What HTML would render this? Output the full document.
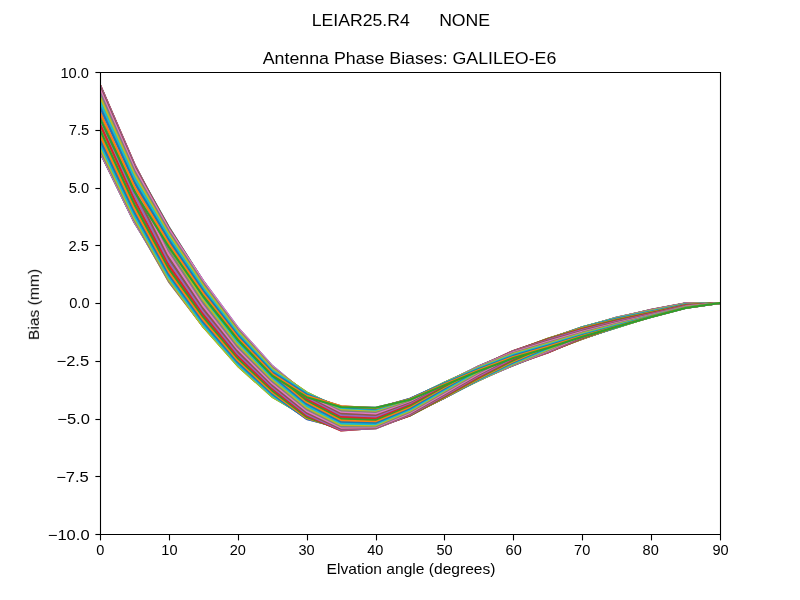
<!DOCTYPE html><html><head><meta charset="utf-8"><title>Antenna Phase Biases</title><style>html,body{margin:0;padding:0;background:#fff;width:800px;height:600px;overflow:hidden}svg{display:block}</style></head><body><svg width="800" height="600" viewBox="0 0 800 600"><defs><clipPath id="ax"><rect x="100" y="72" width="620" height="462"/></clipPath></defs><rect width="800" height="600" fill="#fff"/><g clip-path="url(#ax)" fill="none" stroke-width="2.0833" stroke-linejoin="round" stroke-linecap="square"><path d="M100.00 118.43 L134.44 191.47 L168.89 247.09 L203.33 296.50 L237.78 339.73 L272.22 375.63 L306.67 397.19 L341.11 407.02 L375.56 407.71 L410.00 399.76 L444.44 385.13 L478.89 370.94 L513.33 358.05 L547.78 347.90 L582.22 336.81 L616.67 326.86 L651.11 317.02 L685.56 307.92 L720.00 303.00" stroke="#1f77b4"/><path d="M100.00 124.25 L134.44 196.18 L168.89 250.73 L203.33 299.38 L237.78 342.04 L272.22 377.50 L306.67 398.74 L341.11 407.97 L375.56 408.17 L410.00 400.51 L444.44 386.11 L478.89 372.01 L513.33 359.16 L547.78 348.88 L582.22 337.45 L616.67 327.21 L651.11 316.86 L685.56 307.82 L720.00 303.00" stroke="#ff7f0e"/><path d="M100.00 129.89 L134.44 200.82 L168.89 254.42 L203.33 302.30 L237.78 344.38 L272.22 379.40 L306.67 400.39 L341.11 409.09 L375.56 408.84 L410.00 401.41 L444.44 387.18 L478.89 373.11 L513.33 360.24 L547.78 349.79 L582.22 337.99 L616.67 327.45 L651.11 316.63 L685.56 307.67 L720.00 303.00" stroke="#2ca02c"/><path d="M100.00 135.18 L134.44 205.26 L168.89 258.12 L203.33 305.24 L237.78 346.75 L272.22 381.31 L306.67 402.12 L341.11 410.37 L375.56 409.72 L410.00 402.45 L444.44 388.32 L478.89 374.21 L513.33 361.27 L547.78 350.60 L582.22 338.41 L616.67 327.32 L651.11 316.32 L685.56 307.47 L720.00 303.00" stroke="#d62728"/><path d="M100.00 139.96 L134.44 209.39 L168.89 261.75 L203.33 308.16 L237.78 349.12 L272.22 383.22 L306.67 403.90 L341.11 411.79 L375.56 410.79 L410.00 403.60 L444.44 389.51 L478.89 375.29 L513.33 362.22 L547.78 351.29 L582.22 338.72 L616.67 327.01 L651.11 315.94 L685.56 307.23 L720.00 303.00" stroke="#9467bd"/><path d="M100.00 144.09 L134.44 213.10 L168.89 265.28 L203.33 311.05 L237.78 351.47 L272.22 385.12 L306.67 405.71 L341.11 413.33 L375.56 412.03 L410.00 404.84 L444.44 390.72 L478.89 376.33 L513.33 363.08 L547.78 351.85 L582.22 338.67 L616.67 326.61 L651.11 315.51 L685.56 306.96 L720.00 303.00" stroke="#8c564b"/><path d="M100.00 147.44 L134.44 216.31 L168.89 268.64 L203.33 313.89 L237.78 353.77 L272.22 386.98 L306.67 407.53 L341.11 414.96 L375.56 413.41 L410.00 406.13 L444.44 391.92 L478.89 377.29 L513.33 363.82 L547.78 352.27 L582.22 338.34 L616.67 326.11 L651.11 315.03 L685.56 306.65 L720.00 303.00" stroke="#e377c2"/><path d="M100.00 149.91 L134.44 218.93 L168.89 271.79 L203.33 316.64 L237.78 356.02 L272.22 388.80 L306.67 409.31 L341.11 416.66 L375.56 414.90 L410.00 407.44 L444.44 393.07 L478.89 378.16 L513.33 364.43 L547.78 352.45 L582.22 337.89 L616.67 325.53 L651.11 314.51 L685.56 306.32 L720.00 303.00" stroke="#7f7f7f"/><path d="M100.00 151.42 L134.44 220.90 L168.89 274.68 L203.33 319.29 L237.78 358.20 L272.22 390.56 L306.67 411.04 L341.11 418.38 L375.56 416.47 L410.00 408.75 L444.44 394.16 L478.89 378.92 L513.33 364.89 L547.78 352.12 L582.22 337.33 L616.67 324.87 L651.11 313.96 L685.56 305.97 L720.00 303.00" stroke="#bcbd22"/><path d="M100.00 151.93 L134.44 222.18 L168.89 277.29 L203.33 321.82 L237.78 360.28 L272.22 392.24 L306.67 412.69 L341.11 420.11 L375.56 418.07 L410.00 410.03 L444.44 395.16 L478.89 379.55 L513.33 365.21 L547.78 351.64 L582.22 336.67 L616.67 324.16 L651.11 313.39 L685.56 305.61 L720.00 303.00" stroke="#17becf"/><path d="M100.00 151.42 L134.44 221.98 L168.89 279.59 L203.33 324.23 L237.78 362.27 L272.22 393.85 L306.67 414.23 L341.11 421.81 L375.56 419.68 L410.00 411.23 L444.44 396.04 L478.89 380.04 L513.33 364.89 L547.78 351.03 L582.22 335.93 L616.67 323.41 L651.11 312.83 L685.56 305.25 L720.00 303.00" stroke="#1f77b4"/><path d="M100.00 149.91 L134.44 220.56 L168.89 281.56 L203.33 326.50 L237.78 364.14 L272.22 395.36 L306.67 415.65 L341.11 423.44 L375.56 421.24 L410.00 412.34 L444.44 396.79 L478.89 380.38 L513.33 364.43 L547.78 350.29 L582.22 335.11 L616.67 322.64 L651.11 312.28 L685.56 304.90 L720.00 303.00" stroke="#ff7f0e"/><path d="M100.00 147.44 L134.44 218.45 L168.89 279.59 L203.33 326.93 L237.78 365.90 L272.22 396.79 L306.67 416.93 L341.11 424.98 L375.56 422.73 L410.00 413.33 L444.44 397.38 L478.89 380.19 L513.33 363.82 L547.78 349.44 L582.22 334.25 L616.67 321.86 L651.11 311.76 L685.56 304.57 L720.00 303.00" stroke="#2ca02c"/><path d="M100.00 144.09 L134.44 215.71 L168.89 277.29 L203.33 324.69 L237.78 364.14 L272.22 395.36 L306.67 418.06 L341.11 426.40 L375.56 424.12 L410.00 414.17 L444.44 397.83 L478.89 379.76 L513.33 363.08 L547.78 348.50 L582.22 333.36 L616.67 321.10 L651.11 311.28 L685.56 304.26 L720.00 303.00" stroke="#d62728"/><path d="M100.00 139.96 L134.44 212.40 L168.89 274.68 L203.33 322.32 L237.78 362.27 L272.22 393.85 L306.67 419.03 L341.11 427.68 L375.56 425.35 L410.00 414.86 L444.44 397.89 L478.89 379.19 L513.33 362.22 L547.78 347.49 L582.22 332.45 L616.67 320.37 L651.11 310.85 L685.56 303.99 L720.00 303.00" stroke="#9467bd"/><path d="M100.00 135.18 L134.44 208.59 L168.89 271.79 L203.33 319.81 L237.78 360.28 L272.22 392.24 L306.67 418.06 L341.11 428.80 L375.56 426.43 L410.00 415.37 L444.44 397.49 L478.89 378.48 L513.33 361.27 L547.78 346.43 L582.22 331.56 L616.67 319.70 L651.11 310.47 L685.56 303.75 L720.00 303.00" stroke="#8c564b"/><path d="M100.00 129.89 L134.44 204.39 L168.89 268.64 L203.33 317.18 L237.78 358.20 L272.22 390.56 L306.67 416.93 L341.11 429.75 L375.56 427.30 L410.00 415.60 L444.44 396.92 L478.89 377.65 L513.33 360.24 L547.78 345.36 L582.22 330.71 L616.67 319.08 L651.11 310.16 L685.56 303.55 L720.00 303.00" stroke="#e377c2"/><path d="M100.00 124.25 L134.44 199.90 L168.89 265.28 L203.33 314.44 L237.78 356.02 L272.22 388.80 L306.67 415.65 L341.11 430.51 L375.56 427.98 L410.00 415.19 L444.44 396.20 L478.89 376.72 L513.33 359.16 L547.78 344.29 L582.22 329.91 L616.67 318.55 L651.11 309.93 L685.56 303.40 L720.00 303.00" stroke="#7f7f7f"/><path d="M100.00 118.43 L134.44 195.24 L168.89 261.75 L203.33 311.63 L237.78 353.77 L272.22 386.98 L306.67 414.23 L341.11 429.75 L375.56 428.43 L410.00 414.60 L444.44 395.34 L478.89 375.71 L513.33 358.05 L547.78 343.25 L582.22 329.18 L616.67 318.11 L651.11 309.77 L685.56 303.30 L720.00 303.00" stroke="#bcbd22"/><path d="M100.00 112.61 L134.44 190.53 L168.89 258.12 L203.33 308.74 L237.78 351.47 L272.22 385.12 L306.67 412.69 L341.11 428.80 L375.56 427.98 L410.00 413.85 L444.44 394.37 L478.89 374.65 L513.33 356.94 L547.78 342.26 L582.22 328.54 L616.67 317.76 L651.11 309.93 L685.56 303.40 L720.00 303.00" stroke="#17becf"/><path d="M100.00 106.98 L134.44 185.89 L168.89 254.42 L203.33 305.82 L237.78 349.12 L272.22 383.22 L306.67 411.04 L341.11 427.68 L375.56 427.30 L410.00 412.95 L444.44 393.30 L478.89 373.55 L513.33 355.86 L547.78 341.36 L582.22 328.00 L616.67 317.52 L651.11 310.16 L685.56 303.55 L720.00 303.00" stroke="#1f77b4"/><path d="M100.00 101.68 L134.44 181.45 L168.89 250.73 L203.33 302.89 L237.78 346.75 L272.22 381.31 L306.67 409.31 L341.11 426.40 L375.56 426.43 L410.00 411.91 L444.44 392.15 L478.89 372.45 L513.33 354.82 L547.78 340.55 L582.22 327.58 L616.67 317.65 L651.11 310.47 L685.56 303.75 L720.00 303.00" stroke="#ff7f0e"/><path d="M100.00 96.90 L134.44 177.32 L168.89 247.09 L203.33 299.96 L237.78 344.38 L272.22 379.40 L306.67 407.53 L341.11 424.98 L375.56 425.35 L410.00 410.76 L444.44 390.96 L478.89 371.37 L513.33 353.87 L547.78 339.86 L582.22 327.27 L616.67 317.96 L651.11 310.85 L685.56 303.99 L720.00 303.00" stroke="#2ca02c"/><path d="M100.00 92.77 L134.44 173.61 L168.89 243.56 L203.33 297.07 L237.78 342.04 L272.22 377.50 L306.67 405.71 L341.11 423.44 L375.56 424.12 L410.00 409.52 L444.44 389.75 L478.89 370.33 L513.33 353.01 L547.78 339.30 L582.22 327.32 L616.67 318.36 L651.11 311.28 L685.56 304.26 L720.00 303.00" stroke="#d62728"/><path d="M100.00 89.42 L134.44 170.40 L168.89 240.20 L203.33 294.24 L237.78 339.73 L272.22 375.63 L306.67 403.90 L341.11 421.81 L375.56 422.73 L410.00 408.23 L444.44 388.56 L478.89 369.37 L513.33 352.27 L547.78 338.88 L582.22 327.65 L616.67 318.86 L651.11 311.76 L685.56 304.57 L720.00 303.00" stroke="#9467bd"/><path d="M100.00 86.96 L134.44 167.78 L168.89 237.06 L203.33 291.49 L237.78 337.48 L272.22 373.82 L306.67 402.12 L341.11 420.11 L375.56 421.24 L410.00 406.92 L444.44 387.40 L478.89 368.50 L513.33 351.67 L547.78 338.69 L582.22 328.10 L616.67 319.44 L651.11 312.28 L685.56 304.90 L720.00 303.00" stroke="#8c564b"/><path d="M100.00 85.44 L134.44 165.81 L168.89 234.16 L203.33 288.84 L237.78 335.31 L272.22 372.06 L306.67 400.39 L341.11 418.38 L375.56 419.68 L410.00 405.61 L444.44 386.31 L478.89 367.74 L513.33 351.20 L547.78 339.03 L582.22 328.66 L616.67 320.10 L651.11 312.83 L685.56 305.25 L720.00 303.00" stroke="#e377c2"/><path d="M100.00 84.94 L134.44 164.53 L168.89 231.55 L203.33 286.30 L237.78 333.22 L272.22 370.37 L306.67 398.74 L341.11 416.66 L375.56 418.07 L410.00 404.34 L444.44 385.32 L478.89 367.11 L513.33 350.89 L547.78 339.50 L582.22 329.32 L616.67 320.81 L651.11 313.39 L685.56 305.61 L720.00 303.00" stroke="#7f7f7f"/><path d="M100.00 85.44 L134.44 164.73 L168.89 229.25 L203.33 283.90 L237.78 331.24 L272.22 368.77 L306.67 397.19 L341.11 414.96 L375.56 416.47 L410.00 403.13 L444.44 384.44 L478.89 366.62 L513.33 351.20 L547.78 340.12 L582.22 330.06 L616.67 321.56 L651.11 313.96 L685.56 305.97 L720.00 303.00" stroke="#bcbd22"/><path d="M100.00 86.96 L134.44 166.15 L168.89 227.28 L203.33 281.63 L237.78 329.36 L272.22 367.25 L306.67 395.77 L341.11 413.33 L375.56 414.90 L410.00 402.02 L444.44 383.69 L478.89 366.28 L513.33 351.67 L547.78 340.86 L582.22 330.88 L616.67 322.33 L651.11 314.51 L685.56 306.32 L720.00 303.00" stroke="#17becf"/><path d="M100.00 89.42 L134.44 168.26 L168.89 229.25 L203.33 281.19 L237.78 327.60 L272.22 365.83 L306.67 394.49 L341.11 411.79 L375.56 413.41 L410.00 401.04 L444.44 383.09 L478.89 366.46 L513.33 352.27 L547.78 341.71 L582.22 331.74 L616.67 323.11 L651.11 315.03 L685.56 306.65 L720.00 303.00" stroke="#1f77b4"/><path d="M100.00 92.77 L134.44 171.00 L168.89 231.55 L203.33 283.43 L237.78 329.36 L272.22 367.25 L306.67 393.37 L341.11 410.37 L375.56 412.03 L410.00 400.19 L444.44 382.65 L478.89 366.89 L513.33 353.01 L547.78 342.65 L582.22 332.63 L616.67 323.87 L651.11 315.51 L685.56 306.96 L720.00 303.00" stroke="#ff7f0e"/><path d="M100.00 96.90 L134.44 174.31 L168.89 234.16 L203.33 285.81 L237.78 331.24 L272.22 368.77 L306.67 392.40 L341.11 409.09 L375.56 410.79 L410.00 399.50 L444.44 382.58 L478.89 367.47 L513.33 353.87 L547.78 343.66 L582.22 333.54 L616.67 324.60 L651.11 315.94 L685.56 307.23 L720.00 303.00" stroke="#2ca02c"/><path d="M100.00 101.68 L134.44 178.12 L168.89 237.06 L203.33 288.32 L237.78 333.22 L272.22 370.37 L306.67 393.37 L341.11 407.97 L375.56 409.72 L410.00 398.99 L444.44 382.99 L478.89 368.18 L513.33 354.82 L547.78 344.71 L582.22 334.43 L616.67 325.27 L651.11 316.32 L685.56 307.47 L720.00 303.00" stroke="#d62728"/><path d="M100.00 106.98 L134.44 182.32 L168.89 240.20 L203.33 290.95 L237.78 335.31 L272.22 372.06 L306.67 394.49 L341.11 407.02 L375.56 408.84 L410.00 398.76 L444.44 383.56 L478.89 369.01 L513.33 355.86 L547.78 345.79 L582.22 335.28 L616.67 325.89 L651.11 316.63 L685.56 307.67 L720.00 303.00" stroke="#9467bd"/><path d="M100.00 112.61 L134.44 186.81 L168.89 243.56 L203.33 293.68 L237.78 337.48 L272.22 373.82 L306.67 395.77 L341.11 406.26 L375.56 408.17 L410.00 399.17 L444.44 384.28 L478.89 369.94 L513.33 356.94 L547.78 346.86 L582.22 336.08 L616.67 326.42 L651.11 316.86 L685.56 307.82 L720.00 303.00" stroke="#8c564b"/><path d="M100.00 118.43 L134.44 191.47 L168.89 247.09 L203.33 296.50 L237.78 339.73 L272.22 375.63 L306.67 397.19 L341.11 407.02 L375.56 407.71 L410.00 399.76 L444.44 385.13 L478.89 370.94 L513.33 358.05 L547.78 347.90 L582.22 336.81 L616.67 326.86 L651.11 317.02 L685.56 307.92 L720.00 303.00" stroke="#e377c2"/><path d="M100.00 124.25 L134.44 196.18 L168.89 250.73 L203.33 299.38 L237.78 342.04 L272.22 377.50 L306.67 398.74 L341.11 407.97 L375.56 408.17 L410.00 400.51 L444.44 386.11 L478.89 372.01 L513.33 359.16 L547.78 348.88 L582.22 337.45 L616.67 327.21 L651.11 316.86 L685.56 307.82 L720.00 303.00" stroke="#7f7f7f"/><path d="M100.00 129.89 L134.44 200.82 L168.89 254.42 L203.33 302.30 L237.78 344.38 L272.22 379.40 L306.67 400.39 L341.11 409.09 L375.56 408.84 L410.00 401.41 L444.44 387.18 L478.89 373.11 L513.33 360.24 L547.78 349.79 L582.22 337.99 L616.67 327.45 L651.11 316.63 L685.56 307.67 L720.00 303.00" stroke="#bcbd22"/><path d="M100.00 135.18 L134.44 205.26 L168.89 258.12 L203.33 305.24 L237.78 346.75 L272.22 381.31 L306.67 402.12 L341.11 410.37 L375.56 409.72 L410.00 402.45 L444.44 388.32 L478.89 374.21 L513.33 361.27 L547.78 350.60 L582.22 338.41 L616.67 327.32 L651.11 316.32 L685.56 307.47 L720.00 303.00" stroke="#17becf"/><path d="M100.00 139.96 L134.44 209.39 L168.89 261.75 L203.33 308.16 L237.78 349.12 L272.22 383.22 L306.67 403.90 L341.11 411.79 L375.56 410.79 L410.00 403.60 L444.44 389.51 L478.89 375.29 L513.33 362.22 L547.78 351.29 L582.22 338.72 L616.67 327.01 L651.11 315.94 L685.56 307.23 L720.00 303.00" stroke="#1f77b4"/><path d="M100.00 144.09 L134.44 213.10 L168.89 265.28 L203.33 311.05 L237.78 351.47 L272.22 385.12 L306.67 405.71 L341.11 413.33 L375.56 412.03 L410.00 404.84 L444.44 390.72 L478.89 376.33 L513.33 363.08 L547.78 351.85 L582.22 338.67 L616.67 326.61 L651.11 315.51 L685.56 306.96 L720.00 303.00" stroke="#ff7f0e"/><path d="M100.00 147.44 L134.44 216.31 L168.89 268.64 L203.33 313.89 L237.78 353.77 L272.22 386.98 L306.67 407.53 L341.11 414.96 L375.56 413.41 L410.00 406.13 L444.44 391.92 L478.89 377.29 L513.33 363.82 L547.78 352.27 L582.22 338.34 L616.67 326.11 L651.11 315.03 L685.56 306.65 L720.00 303.00" stroke="#2ca02c"/><path d="M100.00 149.91 L134.44 218.93 L168.89 271.79 L203.33 316.64 L237.78 356.02 L272.22 388.80 L306.67 409.31 L341.11 416.66 L375.56 414.90 L410.00 407.44 L444.44 393.07 L478.89 378.16 L513.33 364.43 L547.78 352.45 L582.22 337.89 L616.67 325.53 L651.11 314.51 L685.56 306.32 L720.00 303.00" stroke="#d62728"/><path d="M100.00 151.42 L134.44 220.90 L168.89 274.68 L203.33 319.29 L237.78 358.20 L272.22 390.56 L306.67 411.04 L341.11 418.38 L375.56 416.47 L410.00 408.75 L444.44 394.16 L478.89 378.92 L513.33 364.89 L547.78 352.12 L582.22 337.33 L616.67 324.87 L651.11 313.96 L685.56 305.97 L720.00 303.00" stroke="#9467bd"/><path d="M100.00 151.93 L134.44 222.18 L168.89 277.29 L203.33 321.82 L237.78 360.28 L272.22 392.24 L306.67 412.69 L341.11 420.11 L375.56 418.07 L410.00 410.03 L444.44 395.16 L478.89 379.55 L513.33 365.21 L547.78 351.64 L582.22 336.67 L616.67 324.16 L651.11 313.39 L685.56 305.61 L720.00 303.00" stroke="#8c564b"/><path d="M100.00 151.42 L134.44 221.98 L168.89 279.59 L203.33 324.23 L237.78 362.27 L272.22 393.85 L306.67 414.23 L341.11 421.81 L375.56 419.68 L410.00 411.23 L444.44 396.04 L478.89 380.04 L513.33 364.89 L547.78 351.03 L582.22 335.93 L616.67 323.41 L651.11 312.83 L685.56 305.25 L720.00 303.00" stroke="#e377c2"/><path d="M100.00 149.91 L134.44 220.56 L168.89 281.56 L203.33 326.50 L237.78 364.14 L272.22 395.36 L306.67 415.65 L341.11 423.44 L375.56 421.24 L410.00 412.34 L444.44 396.79 L478.89 380.38 L513.33 364.43 L547.78 350.29 L582.22 335.11 L616.67 322.64 L651.11 312.28 L685.56 304.90 L720.00 303.00" stroke="#7f7f7f"/><path d="M100.00 147.44 L134.44 218.45 L168.89 279.59 L203.33 326.93 L237.78 365.90 L272.22 396.79 L306.67 416.93 L341.11 424.98 L375.56 422.73 L410.00 413.33 L444.44 397.38 L478.89 380.19 L513.33 363.82 L547.78 349.44 L582.22 334.25 L616.67 321.86 L651.11 311.76 L685.56 304.57 L720.00 303.00" stroke="#bcbd22"/><path d="M100.00 144.09 L134.44 215.71 L168.89 277.29 L203.33 324.69 L237.78 364.14 L272.22 395.36 L306.67 418.06 L341.11 426.40 L375.56 424.12 L410.00 414.17 L444.44 397.83 L478.89 379.76 L513.33 363.08 L547.78 348.50 L582.22 333.36 L616.67 321.10 L651.11 311.28 L685.56 304.26 L720.00 303.00" stroke="#17becf"/><path d="M100.00 139.96 L134.44 212.40 L168.89 274.68 L203.33 322.32 L237.78 362.27 L272.22 393.85 L306.67 419.03 L341.11 427.68 L375.56 425.35 L410.00 414.86 L444.44 397.89 L478.89 379.19 L513.33 362.22 L547.78 347.49 L582.22 332.45 L616.67 320.37 L651.11 310.85 L685.56 303.99 L720.00 303.00" stroke="#1f77b4"/><path d="M100.00 135.18 L134.44 208.59 L168.89 271.79 L203.33 319.81 L237.78 360.28 L272.22 392.24 L306.67 418.06 L341.11 428.80 L375.56 426.43 L410.00 415.37 L444.44 397.49 L478.89 378.48 L513.33 361.27 L547.78 346.43 L582.22 331.56 L616.67 319.70 L651.11 310.47 L685.56 303.75 L720.00 303.00" stroke="#ff7f0e"/><path d="M100.00 129.89 L134.44 204.39 L168.89 268.64 L203.33 317.18 L237.78 358.20 L272.22 390.56 L306.67 416.93 L341.11 429.75 L375.56 427.30 L410.00 415.60 L444.44 396.92 L478.89 377.65 L513.33 360.24 L547.78 345.36 L582.22 330.71 L616.67 319.08 L651.11 310.16 L685.56 303.55 L720.00 303.00" stroke="#2ca02c"/><path d="M100.00 124.25 L134.44 199.90 L168.89 265.28 L203.33 314.44 L237.78 356.02 L272.22 388.80 L306.67 415.65 L341.11 430.51 L375.56 427.98 L410.00 415.19 L444.44 396.20 L478.89 376.72 L513.33 359.16 L547.78 344.29 L582.22 329.91 L616.67 318.55 L651.11 309.93 L685.56 303.40 L720.00 303.00" stroke="#d62728"/><path d="M100.00 118.43 L134.44 195.24 L168.89 261.75 L203.33 311.63 L237.78 353.77 L272.22 386.98 L306.67 414.23 L341.11 429.75 L375.56 428.43 L410.00 414.60 L444.44 395.34 L478.89 375.71 L513.33 358.05 L547.78 343.25 L582.22 329.18 L616.67 318.11 L651.11 309.77 L685.56 303.30 L720.00 303.00" stroke="#9467bd"/><path d="M100.00 112.61 L134.44 190.53 L168.89 258.12 L203.33 308.74 L237.78 351.47 L272.22 385.12 L306.67 412.69 L341.11 428.80 L375.56 427.98 L410.00 413.85 L444.44 394.37 L478.89 374.65 L513.33 356.94 L547.78 342.26 L582.22 328.54 L616.67 317.76 L651.11 309.93 L685.56 303.40 L720.00 303.00" stroke="#8c564b"/><path d="M100.00 106.98 L134.44 185.89 L168.89 254.42 L203.33 305.82 L237.78 349.12 L272.22 383.22 L306.67 411.04 L341.11 427.68 L375.56 427.30 L410.00 412.95 L444.44 393.30 L478.89 373.55 L513.33 355.86 L547.78 341.36 L582.22 328.00 L616.67 317.52 L651.11 310.16 L685.56 303.55 L720.00 303.00" stroke="#e377c2"/><path d="M100.00 101.68 L134.44 181.45 L168.89 250.73 L203.33 302.89 L237.78 346.75 L272.22 381.31 L306.67 409.31 L341.11 426.40 L375.56 426.43 L410.00 411.91 L444.44 392.15 L478.89 372.45 L513.33 354.82 L547.78 340.55 L582.22 327.58 L616.67 317.65 L651.11 310.47 L685.56 303.75 L720.00 303.00" stroke="#7f7f7f"/><path d="M100.00 96.90 L134.44 177.32 L168.89 247.09 L203.33 299.96 L237.78 344.38 L272.22 379.40 L306.67 407.53 L341.11 424.98 L375.56 425.35 L410.00 410.76 L444.44 390.96 L478.89 371.37 L513.33 353.87 L547.78 339.86 L582.22 327.27 L616.67 317.96 L651.11 310.85 L685.56 303.99 L720.00 303.00" stroke="#bcbd22"/><path d="M100.00 92.77 L134.44 173.61 L168.89 243.56 L203.33 297.07 L237.78 342.04 L272.22 377.50 L306.67 405.71 L341.11 423.44 L375.56 424.12 L410.00 409.52 L444.44 389.75 L478.89 370.33 L513.33 353.01 L547.78 339.30 L582.22 327.32 L616.67 318.36 L651.11 311.28 L685.56 304.26 L720.00 303.00" stroke="#17becf"/><path d="M100.00 89.42 L134.44 170.40 L168.89 240.20 L203.33 294.24 L237.78 339.73 L272.22 375.63 L306.67 403.90 L341.11 421.81 L375.56 422.73 L410.00 408.23 L444.44 388.56 L478.89 369.37 L513.33 352.27 L547.78 338.88 L582.22 327.65 L616.67 318.86 L651.11 311.76 L685.56 304.57 L720.00 303.00" stroke="#1f77b4"/><path d="M100.00 86.96 L134.44 167.78 L168.89 237.06 L203.33 291.49 L237.78 337.48 L272.22 373.82 L306.67 402.12 L341.11 420.11 L375.56 421.24 L410.00 406.92 L444.44 387.40 L478.89 368.50 L513.33 351.67 L547.78 338.69 L582.22 328.10 L616.67 319.44 L651.11 312.28 L685.56 304.90 L720.00 303.00" stroke="#ff7f0e"/><path d="M100.00 85.44 L134.44 165.81 L168.89 234.16 L203.33 288.84 L237.78 335.31 L272.22 372.06 L306.67 400.39 L341.11 418.38 L375.56 419.68 L410.00 405.61 L444.44 386.31 L478.89 367.74 L513.33 351.20 L547.78 339.03 L582.22 328.66 L616.67 320.10 L651.11 312.83 L685.56 305.25 L720.00 303.00" stroke="#2ca02c"/><path d="M100.00 84.94 L134.44 164.53 L168.89 231.55 L203.33 286.30 L237.78 333.22 L272.22 370.37 L306.67 398.74 L341.11 416.66 L375.56 418.07 L410.00 404.34 L444.44 385.32 L478.89 367.11 L513.33 350.89 L547.78 339.50 L582.22 329.32 L616.67 320.81 L651.11 313.39 L685.56 305.61 L720.00 303.00" stroke="#d62728"/><path d="M100.00 85.44 L134.44 164.73 L168.89 229.25 L203.33 283.90 L237.78 331.24 L272.22 368.77 L306.67 397.19 L341.11 414.96 L375.56 416.47 L410.00 403.13 L444.44 384.44 L478.89 366.62 L513.33 351.20 L547.78 340.12 L582.22 330.06 L616.67 321.56 L651.11 313.96 L685.56 305.97 L720.00 303.00" stroke="#9467bd"/><path d="M100.00 86.96 L134.44 166.15 L168.89 227.28 L203.33 281.63 L237.78 329.36 L272.22 367.25 L306.67 395.77 L341.11 413.33 L375.56 414.90 L410.00 402.02 L444.44 383.69 L478.89 366.28 L513.33 351.67 L547.78 340.86 L582.22 330.88 L616.67 322.33 L651.11 314.51 L685.56 306.32 L720.00 303.00" stroke="#8c564b"/><path d="M100.00 89.42 L134.44 168.26 L168.89 229.25 L203.33 281.19 L237.78 327.60 L272.22 365.83 L306.67 394.49 L341.11 411.79 L375.56 413.41 L410.00 401.04 L444.44 383.09 L478.89 366.46 L513.33 352.27 L547.78 341.71 L582.22 331.74 L616.67 323.11 L651.11 315.03 L685.56 306.65 L720.00 303.00" stroke="#e377c2"/><path d="M100.00 92.77 L134.44 171.00 L168.89 231.55 L203.33 283.43 L237.78 329.36 L272.22 367.25 L306.67 393.37 L341.11 410.37 L375.56 412.03 L410.00 400.19 L444.44 382.65 L478.89 366.89 L513.33 353.01 L547.78 342.65 L582.22 332.63 L616.67 323.87 L651.11 315.51 L685.56 306.96 L720.00 303.00" stroke="#7f7f7f"/><path d="M100.00 96.90 L134.44 174.31 L168.89 234.16 L203.33 285.81 L237.78 331.24 L272.22 368.77 L306.67 392.40 L341.11 409.09 L375.56 410.79 L410.00 399.50 L444.44 382.58 L478.89 367.47 L513.33 353.87 L547.78 343.66 L582.22 333.54 L616.67 324.60 L651.11 315.94 L685.56 307.23 L720.00 303.00" stroke="#bcbd22"/><path d="M100.00 101.68 L134.44 178.12 L168.89 237.06 L203.33 288.32 L237.78 333.22 L272.22 370.37 L306.67 393.37 L341.11 407.97 L375.56 409.72 L410.00 398.99 L444.44 382.99 L478.89 368.18 L513.33 354.82 L547.78 344.71 L582.22 334.43 L616.67 325.27 L651.11 316.32 L685.56 307.47 L720.00 303.00" stroke="#17becf"/><path d="M100.00 106.98 L134.44 182.32 L168.89 240.20 L203.33 290.95 L237.78 335.31 L272.22 372.06 L306.67 394.49 L341.11 407.02 L375.56 408.84 L410.00 398.76 L444.44 383.56 L478.89 369.01 L513.33 355.86 L547.78 345.79 L582.22 335.28 L616.67 325.89 L651.11 316.63 L685.56 307.67 L720.00 303.00" stroke="#1f77b4"/><path d="M100.00 112.61 L134.44 186.81 L168.89 243.56 L203.33 293.68 L237.78 337.48 L272.22 373.82 L306.67 395.77 L341.11 406.26 L375.56 408.17 L410.00 399.17 L444.44 384.28 L478.89 369.94 L513.33 356.94 L547.78 346.86 L582.22 336.08 L616.67 326.42 L651.11 316.86 L685.56 307.82 L720.00 303.00" stroke="#ff7f0e"/><path d="M100.00 118.43 L134.44 191.47 L168.89 247.09 L203.33 296.50 L237.78 339.73 L272.22 375.63 L306.67 397.19 L341.11 407.02 L375.56 407.71 L410.00 399.76 L444.44 385.13 L478.89 370.94 L513.33 358.05 L547.78 347.90 L582.22 336.81 L616.67 326.86 L651.11 317.02 L685.56 307.92 L720.00 303.00" stroke="#2ca02c"/></g><g fill="none" stroke="#000" stroke-width="1.1111" stroke-linecap="butt"><path d="M100.5 72 V535"/><path d="M720.5 72 V535"/><path d="M100 72.5 H721"/><path d="M100 534.5 H721"/><path d="M100.5 535 V540.4"/><path d="M169.5 535 V540.4"/><path d="M238.5 535 V540.4"/><path d="M307.5 535 V540.4"/><path d="M376.5 535 V540.4"/><path d="M444.5 535 V540.4"/><path d="M513.5 535 V540.4"/><path d="M582.5 535 V540.4"/><path d="M651.5 535 V540.4"/><path d="M720.5 535 V540.4"/><path d="M95.4 72.5 H100"/><path d="M95.4 130.5 H100"/><path d="M95.4 188.5 H100"/><path d="M95.4 245.5 H100"/><path d="M95.4 303.5 H100"/><path d="M95.4 361.5 H100"/><path d="M95.4 419.5 H100"/><path d="M95.4 476.5 H100"/><path d="M95.4 534.5 H100"/></g><g font-family="Liberation Sans, sans-serif" fill="#000" style="will-change:transform"><text transform="translate(311.767 26.000) scale(1.0394 1.0000)" font-size="16.970" xml:space="preserve">LEIAR25.R4      NONE</text><text transform="translate(262.694 64.000) scale(1.0490 1.0000)" font-size="16.970" xml:space="preserve">Antenna Phase Biases: GALILEO-E6</text><text transform="translate(326.597 574.000) scale(1.1023 1.0000)" font-size="14.140" xml:space="preserve">Elvation angle (degrees)</text><text transform="translate(38.860 340.108) rotate(-90) scale(1.1059 1.0000)" font-size="14.140" xml:space="preserve">Bias (mm)</text><text transform="translate(96.213 555.132) scale(1.0300 1.0000)" font-size="14.140" xml:space="preserve">0</text><text transform="translate(161.302 554.797) scale(1.0300 1.0000)" font-size="14.140" xml:space="preserve">10</text><text transform="translate(229.759 555.175) scale(1.0300 1.0000)" font-size="14.140" xml:space="preserve">20</text><text transform="translate(298.511 554.942) scale(1.0300 1.0000)" font-size="14.140" xml:space="preserve">30</text><text transform="translate(367.263 554.572) scale(1.0300 1.0000)" font-size="14.140" xml:space="preserve">40</text><text transform="translate(436.415 555.097) scale(1.0300 1.0000)" font-size="14.140" xml:space="preserve">50</text><text transform="translate(505.598 555.110) scale(1.0300 1.0000)" font-size="14.140" xml:space="preserve">60</text><text transform="translate(574.071 555.198) scale(1.0300 1.0000)" font-size="14.140" xml:space="preserve">70</text><text transform="translate(642.622 554.971) scale(1.0300 1.0000)" font-size="14.140" xml:space="preserve">80</text><text transform="translate(712.378 554.740) scale(1.0300 1.0000)" font-size="14.140" xml:space="preserve">90</text><text transform="translate(47.771 540.079) scale(1.1700 1.0000)" font-size="14.140" xml:space="preserve">−10.0</text><text transform="translate(56.155 482.407) scale(1.1700 1.0000)" font-size="14.140" xml:space="preserve">−7.5</text><text transform="translate(57.256 424.337) scale(1.1700 1.0000)" font-size="14.140" xml:space="preserve">−5.0</text><text transform="translate(56.492 366.391) scale(1.1700 1.0000)" font-size="14.140" xml:space="preserve">−2.5</text><text transform="translate(69.175 308.177) scale(1.0400 1.0000)" font-size="14.140" xml:space="preserve">0.0</text><text transform="translate(68.439 251.274) scale(1.0400 1.0000)" font-size="14.140" xml:space="preserve">2.5</text><text transform="translate(68.669 193.198) scale(1.0400 1.0000)" font-size="14.140" xml:space="preserve">5.0</text><text transform="translate(68.777 135.183) scale(1.0400 1.0000)" font-size="14.140" xml:space="preserve">7.5</text><text transform="translate(60.393 77.979) scale(1.0400 1.0000)" font-size="14.140" xml:space="preserve">10.0</text></g></svg></body></html>
